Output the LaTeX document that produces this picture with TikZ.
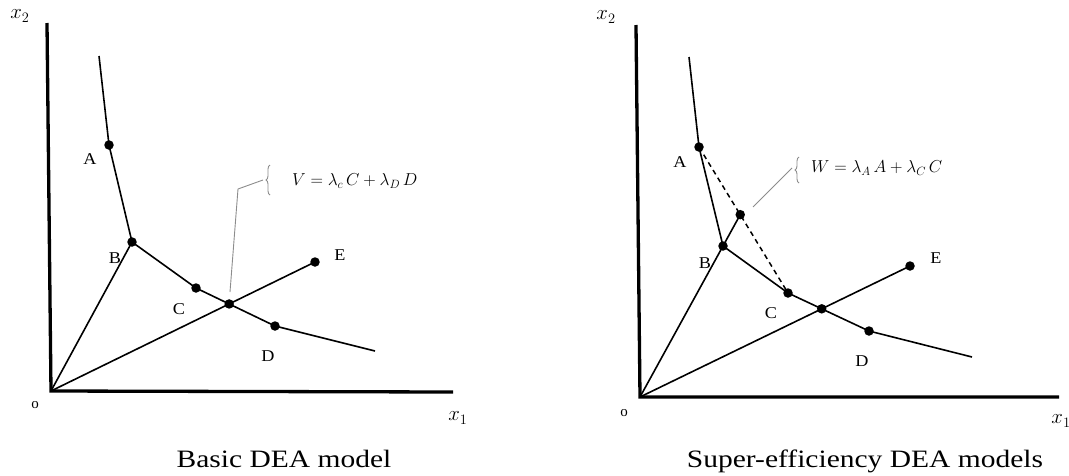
\documentclass[tikz,border=0pt]{standalone}
\usepackage{fontspec}
\setmainfont{Liberation Serif}
\usetikzlibrary{calc,decorations.pathreplacing}
\begin{document}
\begin{tikzpicture}[x=1pt,y=-1pt,
  axisline/.style={line width=3.3pt, line join=miter},
  curve/.style={line width=1.6pt},
  dashline/.style={line width=1.5pt, dash pattern=on 5pt off 4pt},
  dot/.style={circle, fill=black, inner sep=0pt, minimum size=9.5pt},
  leader/.style={line width=0.9pt, draw=black!45},
  bracestyle/.style={line width=0.9pt, draw=black!45, decorate, decoration={brace, amplitude=4pt}},
  lbl/.style={font=\fontsize{16.5}{19}\selectfont, inner sep=0pt, xscale=1.1, transform shape},
  axlab/.style={font=\fontsize{22}{25}\selectfont, inner sep=0pt},
  orig/.style={font=\fontsize{15}{17}\selectfont, inner sep=0pt},
  eq/.style={font=\fontsize{18}{21}\selectfont, inner sep=0pt},
  caption/.style={font=\fontsize{25}{30}\selectfont, inner sep=0pt, anchor=base, xscale=1.18, transform shape}
]
\useasboundingbox (0,0) rectangle (1069,475);

% ---------------- Left panel ----------------
\coordinate (Ltop) at (47,23);
\coordinate (LO) at (51,391);
\coordinate (Lxend) at (453,392);
\draw[axisline] (Ltop) -- (LO) -- (Lxend);

\coordinate (LF1) at (99,56);
\coordinate (LF2) at (375,351);
\node[dot] (LA) at (109,145) {};
\node[dot] (LB) at (132,242) {};
\node[dot] (LC) at (196,288) {};
\node[dot] (LD) at (275,326) {};
\node[dot] (LE) at (315,262) {};

\draw[curve] (LF1) -- (LA.center) -- (LB.center) -- (LC.center) -- (LD.center) -- (LF2);
\draw[curve] (LO) -- (LB.center);
\draw[curve] (LO) -- (LE.center);
\node[dot] (LV) at (intersection of LC--LD and LO--LE) {};

\coordinate (LL1) at (230,292);
\coordinate (LL2) at (238,189);
\coordinate (LL3) at (263,180);
\draw[leader] (LL1) -- (LL2) -- (LL3);
\coordinate (LBr1) at (270,195);
\coordinate (LBr2) at (270,165);
\draw[bracestyle] (LBr1) -- (LBr2);
\node[eq, anchor=west] (LVt) at (292,181) {$V=\lambda_c\,C+\lambda_D\,D$};

\node[lbl] (LAl) at (90,159) {A};
\node[lbl] (LBl) at (115,258) {B};
\node[lbl] (LCl) at (179,309) {C};
\node[lbl] (LDl) at (268,356) {D};
\node[lbl] (LEl) at (340,255) {E};
\node[axlab] (Lx2) at (20,16) {$x_2$};
\node[axlab] (Lx1) at (458,418) {$x_1$};
\node[orig] (Lo) at (35,405) {o};
\node[caption] (Lcap) at (284,467) {Basic DEA model};

% ---------------- Right panel ----------------
\coordinate (Rtop) at (636,25);
\coordinate (RO) at (640,397);
\coordinate (Rxend) at (1059,397);
\draw[axisline] (Rtop) -- (RO) -- (Rxend);

\coordinate (RF1) at (689,57);
\coordinate (RF2) at (972,357);
\node[dot] (RA) at (699,147) {};
\node[dot] (RB) at (723,246) {};
\node[dot] (RC) at (788,293) {};
\node[dot] (RD) at (869,331) {};
\node[dot] (RE) at (910,266) {};

\draw[curve] (RF1) -- (RA.center) -- (RB.center) -- (RC.center) -- (RD.center) -- (RF2);
\draw[curve] (RO) -- (RE.center);
\node[dot] (RV) at (intersection of RC--RD and RO--RE) {};
\node[dot] (RW) at (intersection of RO--RB and RA--RC) {};
\draw[curve] (RO) -- (RW.center);
\draw[dashline] (RA.center) -- (RC.center);

\coordinate (RL1) at (753,207);
\coordinate (RL2) at (792,168);
\draw[leader] (RL1) -- (RL2);
\coordinate (RBr1) at (799,183);
\coordinate (RBr2) at (799,157);
\draw[bracestyle] (RBr1) -- (RBr2);
\node[eq, anchor=west] (RWt) at (811,168) {$W=\lambda_A\,A+\lambda_C\,C$};

\node[lbl] (RAl) at (680,162) {A};
\node[lbl] (RBl) at (705,263) {B};
\node[lbl] (RCl) at (771,313) {C};
\node[lbl] (RDl) at (862,361) {D};
\node[lbl] (REl) at (936,258) {E};
\node[axlab] (Rx2) at (606,17) {$x_2$};
\node[axlab] (Rx1) at (1061,421) {$x_1$};
\node[orig] (Ro) at (624,413) {o};
\node[caption] (Rcap) at (865,467) {Super-efficiency DEA models};
\end{tikzpicture}
\end{document}
